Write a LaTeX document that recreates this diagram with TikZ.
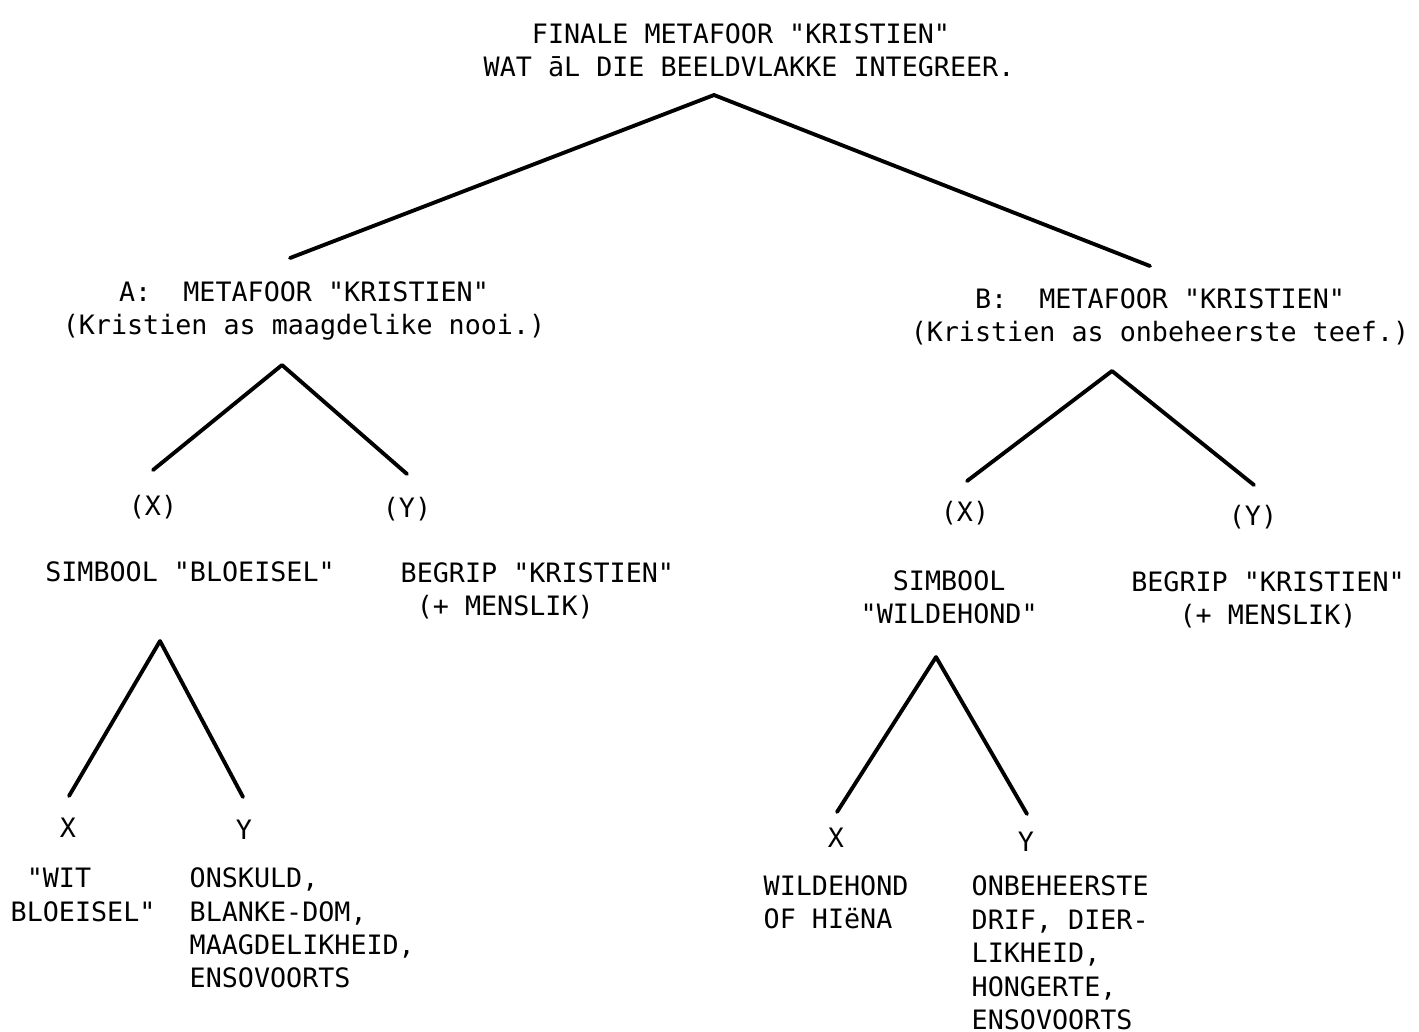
\documentclass[tikz,border=0pt]{standalone}
\usepackage{fontspec}
\newfontfamily\typewriter{DejaVu Sans Mono}
\usetikzlibrary{positioning}

\begin{document}
\begin{tikzpicture}[x=0.1mm,y=-0.1mm,
    txt/.style={font=\typewriter\fontsize{7.6}{9.5}\selectfont,inner sep=0pt},
    branch/.style={line width=1.1pt,line cap=round,line join=round}]
    \useasboundingbox (0,0) rectangle (1419,1031);
    % tekste
    \node[txt,align=left,anchor=west] (finale) at (483,50) {\phantom{XXX}FINALE METAFOOR "KRISTIEN"\\WAT āL DIE BEELDVLAKKE INTEGREER.};
    \node[txt,align=center] (metA) at (304,311) {A:\ \ METAFOOR "KRISTIEN"\\(Kristien as maagdelike nooi.)};
    \node[txt,align=center] (metB) at (1160,317) {B:\ \ METAFOOR "KRISTIEN"\\(Kristien as onbeheerste teef.)};
    \node[txt] (aX) at (153,507) {(X)};
    \node[txt] (aY) at (407,509) {(Y)};
    \node[txt] (bX) at (965,513) {(X)};
    \node[txt] (bY) at (1253,517) {(Y)};
    \node[txt] (simA) at (190,572) {SIMBOOL "BLOEISEL"};
    \node[txt,align=left,anchor=west] (begA) at (400,591) {BEGRIP "KRISTIEN"\\\phantom{X}(+ MENSLIK)};
    \node[txt,align=left,anchor=west] (simB) at (860,597) {\phantom{XX}SIMBOOL\\"WILDEHOND"};
    \node[txt,align=center] (begB) at (1268,600) {BEGRIP "KRISTIEN"\\(+ MENSLIK)};
    \node[txt] (aaX) at (68,828) {X};
    \node[txt] (aaY) at (244,830) {Y};
    \node[txt] (bbX) at (836,838) {X};
    \node[txt] (bbY) at (1026,842) {Y};
    \node[txt,align=left,anchor=west] (wit) at (10,895) {\phantom{X}"WIT\\BLOEISEL"};
    \node[txt,align=left,anchor=west] (onskuld) at (189,928) {ONSKULD,\\BLANKE-DOM,\\MAAGDELIKHEID,\\ENSOVOORTS};
    \node[txt,align=left,anchor=west] (wilde) at (763,902) {WILDEHOND\\OF HIëNA};
    \node[txt,align=left,anchor=west] (drif) at (971,953) {ONBEHEERSTE\\DRIF, DIER-\\LIKHEID,\\HONGERTE,\\ENSOVOORTS};
    % vertakkings
    \coordinate (top) at (714,95);
    \coordinate (topA) at (290,258);
    \coordinate (topB) at (1150,266);
    \coordinate (aTop) at (282,365);
    \coordinate (aL) at (153,470);
    \coordinate (aR) at (407,474);
    \coordinate (bTop) at (1112,371);
    \coordinate (bL) at (967,481);
    \coordinate (bR) at (1254,485);
    \coordinate (aaTop) at (160,641);
    \coordinate (aaL) at (69,796);
    \coordinate (aaR) at (243,797);
    \coordinate (bbTop) at (936,657);
    \coordinate (bbL) at (837,812);
    \coordinate (bbR) at (1027,814);
    \draw[branch] (topA) -- (top) -- (topB);
    \draw[branch] (aL) -- (aTop) -- (aR);
    \draw[branch] (bL) -- (bTop) -- (bR);
    \draw[branch] (aaL) -- (aaTop) -- (aaR);
    \draw[branch] (bbL) -- (bbTop) -- (bbR);
\end{tikzpicture}
\end{document}
